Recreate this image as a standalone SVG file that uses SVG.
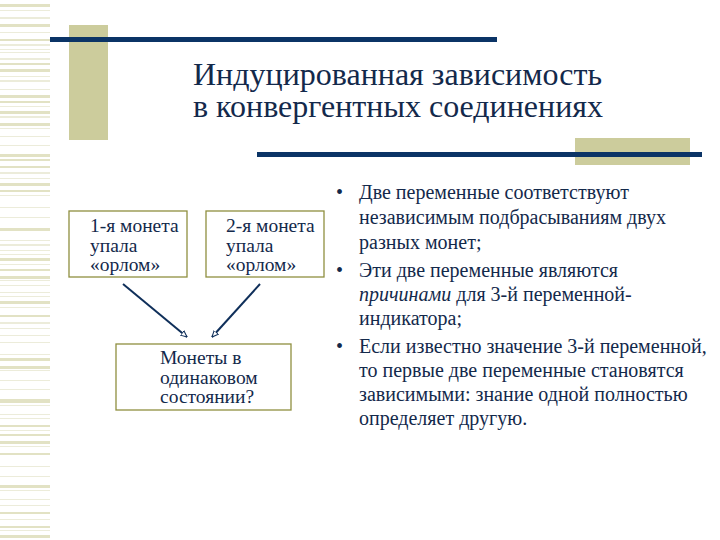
<svg xmlns="http://www.w3.org/2000/svg" width="720" height="540" viewBox="0 0 720 540">
<style>
.s1{fill:#e2e2c4}
.s2{fill:#ececda}
.olive{fill:#cccc9c}
.navy{fill:#0b3466}
.t{fill:#13294b}
.box{fill:#ffffff;stroke:#8f8f3f;stroke-width:1.3}
.arr{stroke:#0f2f5a;stroke-width:2;fill:none}
</style>
<defs>
<marker id="ah" viewBox="0 0 10 10" refX="9" refY="5" markerWidth="7" markerHeight="7" markerUnits="userSpaceOnUse" orient="auto">
<path d="M0,1 L9,5 L0,9 Z" fill="#ffffff" stroke="#0f2f5a" stroke-width="1.5"/>
</marker>
</defs>
<rect width="720" height="540" fill="#ffffff"/>
<g id="stripes">
<rect class="s1" x="0" y="4" width="50" height="3"/><rect class="s2" x="0" y="10" width="50" height="1"/>
<rect class="s2" x="0" y="17" width="50" height="2"/><rect class="s1" x="0" y="24" width="50" height="3"/>
<rect class="s2" x="0" y="32" width="50" height="1"/><rect class="s1" x="0" y="39" width="50" height="2"/>
<rect class="s2" x="0" y="44" width="50" height="2"/><rect class="s2" x="0" y="49" width="50" height="1"/>
<rect class="s2" x="0" y="52" width="50" height="1"/><rect class="s2" x="0" y="58" width="50" height="2"/>
<rect class="s1" x="0" y="63" width="50" height="2"/><rect class="s1" x="0" y="69" width="50" height="3"/>
<rect class="s2" x="0" y="76" width="50" height="1"/><rect class="s2" x="0" y="80" width="50" height="2"/>
<rect class="s2" x="0" y="89" width="50" height="1"/><rect class="s1" x="0" y="95" width="50" height="3"/>
<rect class="s1" x="0" y="101" width="50" height="2"/><rect class="s2" x="0" y="106" width="50" height="1"/>
<rect class="s1" x="0" y="111" width="50" height="3"/><rect class="s2" x="0" y="116" width="50" height="2"/>
<rect class="s1" x="0" y="123" width="50" height="3"/><rect class="s2" x="0" y="128" width="50" height="1"/>
<rect class="s2" x="0" y="136" width="50" height="1"/><rect class="s2" x="0" y="145" width="50" height="1"/>
<rect class="s1" x="0" y="154" width="50" height="3"/><rect class="s1" x="0" y="159" width="50" height="2"/>
<rect class="s1" x="0" y="166" width="50" height="2"/><rect class="s2" x="0" y="172" width="50" height="2"/>
<rect class="s2" x="0" y="178" width="50" height="1"/><rect class="s1" x="0" y="183" width="50" height="3"/>
<rect class="s1" x="0" y="190" width="50" height="2"/><rect class="s2" x="0" y="195" width="50" height="1"/>
<rect class="s2" x="0" y="207" width="50" height="1"/><rect class="s2" x="0" y="217" width="50" height="1"/>
<rect class="s1" x="0" y="228" width="50" height="3"/><rect class="s2" x="0" y="240" width="50" height="1"/>
<rect class="s2" x="0" y="244" width="50" height="2"/><rect class="s2" x="0" y="250" width="50" height="1"/>
<rect class="s2" x="0" y="254" width="50" height="1"/><rect class="s1" x="0" y="258" width="50" height="3"/>
<rect class="s2" x="0" y="264" width="50" height="1"/><rect class="s1" x="0" y="269" width="50" height="2"/>
<rect class="s1" x="0" y="276" width="50" height="3"/><rect class="s2" x="0" y="280" width="50" height="1"/>
<rect class="s2" x="0" y="285" width="50" height="1"/><rect class="s2" x="0" y="292" width="50" height="1"/>
<rect class="s2" x="0" y="296" width="50" height="1"/><rect class="s1" x="0" y="301" width="50" height="3"/>
<rect class="s2" x="0" y="307" width="50" height="1"/><rect class="s1" x="0" y="315" width="50" height="2"/>
<rect class="s2" x="0" y="322" width="50" height="2"/><rect class="s2" x="0" y="328" width="50" height="1"/>
<rect class="s2" x="0" y="335" width="50" height="1"/><rect class="s2" x="0" y="342" width="50" height="1"/>
<rect class="s2" x="0" y="354" width="50" height="1"/><rect class="s1" x="0" y="358" width="50" height="3"/>
<rect class="s1" x="0" y="366" width="50" height="3"/><rect class="s2" x="0" y="370" width="50" height="1"/>
<rect class="s2" x="0" y="380" width="50" height="1"/><rect class="s2" x="0" y="389" width="50" height="1"/>
<rect class="s1" x="0" y="399" width="50" height="4"/><rect class="s2" x="0" y="405" width="50" height="1"/>
<rect class="s2" x="0" y="414" width="50" height="1"/><rect class="s2" x="0" y="418" width="50" height="1"/>
<rect class="s1" x="0" y="425" width="50" height="2"/><rect class="s2" x="0" y="430" width="50" height="1"/>
<rect class="s1" x="0" y="434" width="50" height="2"/><rect class="s1" x="0" y="441" width="50" height="3"/>
<rect class="s2" x="0" y="446" width="50" height="1"/><rect class="s1" x="0" y="453" width="50" height="2"/>
<rect class="s2" x="0" y="466" width="50" height="1"/><rect class="s2" x="0" y="476" width="50" height="1"/>
<rect class="s1" x="0" y="485" width="50" height="3"/><rect class="s2" x="0" y="490" width="50" height="1"/>
<rect class="s2" x="0" y="499" width="50" height="1"/><rect class="s2" x="0" y="505" width="50" height="1"/>
<rect class="s1" x="0" y="512" width="50" height="2"/><rect class="s2" x="0" y="519" width="50" height="1"/>
<rect class="s1" x="0" y="526" width="50" height="2"/><rect class="s2" x="0" y="530" width="50" height="1"/>
<rect class="s1" x="0" y="535" width="50" height="3"/>
</g>
<g id="decor">
<rect class="olive" x="69" y="25" width="39" height="115"/>
<rect class="navy" x="50" y="37" width="447" height="5"/>
<rect class="olive" x="575" y="138" width="115" height="27"/>
<rect class="navy" x="257" y="152" width="445" height="5"/>
</g>
<g id="title" class="t" font-family="Liberation Serif, serif" font-size="32">
<text x="193" y="85">Индуцированная зависимость</text>
<text x="193" y="117">в конвергентных соединениях</text>
</g>
<g id="connectors">
<line class="arr" x1="123" y1="284" x2="187" y2="337" marker-end="url(#ah)"/>
<line class="arr" x1="260" y1="284" x2="212" y2="337" marker-end="url(#ah)"/>
</g>
<g id="node1" font-family="Liberation Serif, serif" font-size="19.5">
<rect class="box" x="69" y="211" width="118" height="66"/>
<text class="t" x="90" y="232">1-я монета</text>
<text class="t" x="90" y="252">упала</text>
<text class="t" x="90" y="271">«орлом»</text>
</g>
<g id="node2" font-family="Liberation Serif, serif" font-size="19.5">
<rect class="box" x="206" y="211" width="118" height="66"/>
<text class="t" x="226" y="232">2-я монета</text>
<text class="t" x="226" y="252">упала</text>
<text class="t" x="226" y="271">«орлом»</text>
</g>
<g id="node3" font-family="Liberation Serif, serif" font-size="19.5">
<rect class="box" x="116" y="344" width="175" height="66"/>
<text class="t" x="160" y="364">Монеты в</text>
<text class="t" x="160" y="384">одинаковом</text>
<text class="t" x="160" y="403">состоянии?</text>
</g>
<g id="bullets" class="t" font-family="Liberation Serif, serif" font-size="20">
<text x="336" y="199">•</text>
<text x="359" y="199">Две переменные соответствуют</text>
<text x="359" y="224">независимым подбрасываниям двух</text>
<text x="359" y="249">разных монет;</text>
<text x="336" y="277">•</text>
<text x="359" y="277">Эти две переменные являются</text>
<text x="359" y="301"><tspan font-style="italic">причинами</tspan> для 3-й переменной-</text>
<text x="359" y="325">индикатора;</text>
<text x="336" y="353">•</text>
<text x="359" y="353">Если известно значение 3-й переменной,</text>
<text x="359" y="377">то первые две переменные становятся</text>
<text x="359" y="401">зависимыми: знание одной полностью</text>
<text x="359" y="425">определяет другую.</text>
</g>
</svg>
